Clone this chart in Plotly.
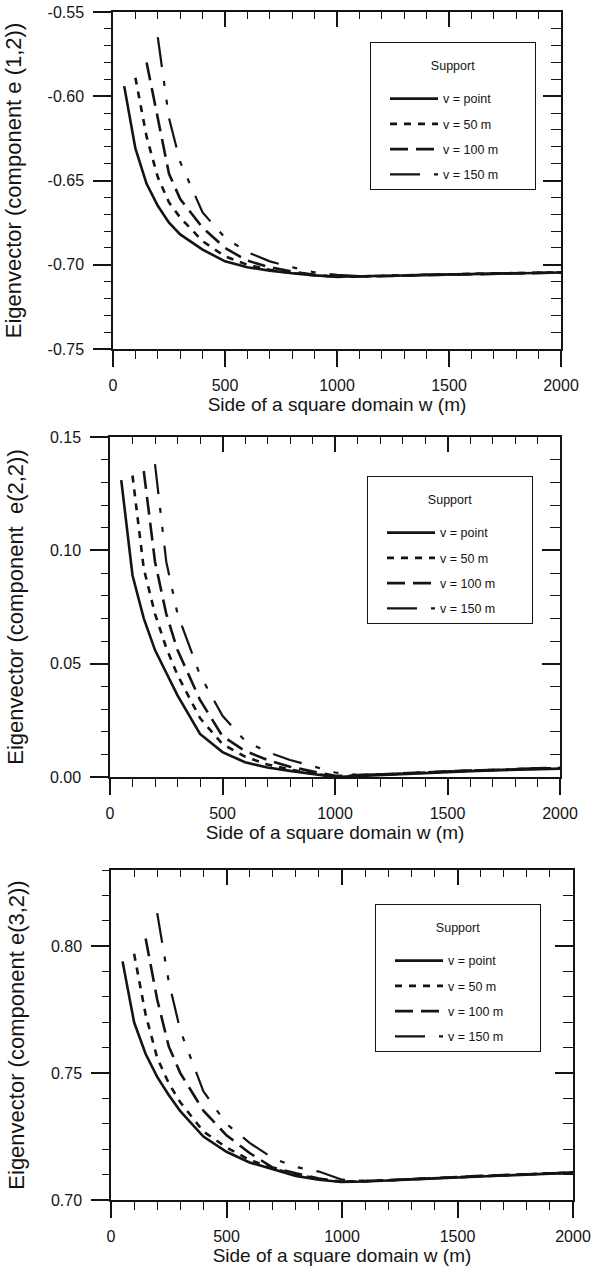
import plotly.graph_objects as go

# ---------------- data ----------------
W_POINT = [50, 100, 150, 200, 250, 300, 400, 500, 600, 700, 800, 900, 1000,
           1100, 1200, 1300, 1400, 1500, 1600, 1700, 1800, 1900, 2000]
W_50 = [100, 150, 200, 250, 300, 400, 500, 600, 700, 800, 900, 1000,
        1100, 1200, 1300, 1400, 1500, 1600, 1700, 1800, 1900, 2000]
W_100 = [150, 200, 250, 300, 400, 500, 600, 700, 800, 900, 1000,
         1100, 1200, 1300, 1400, 1500, 1600, 1700, 1800, 1900, 2000]
W_150 = [200, 250, 300, 400, 500, 600, 700, 800, 900, 1000,
         1100, 1200, 1300, 1400, 1500, 1600, 1700, 1800, 1900, 2000]

# e(1,2)
E12_POINT = [-0.594, -0.631, -0.652, -0.665, -0.675, -0.682, -0.691, -0.698, -0.7015, -0.7035,
             -0.705, -0.7063, -0.7071, -0.7070, -0.7068, -0.7064, -0.7060, -0.7057, -0.7055,
             -0.7052, -0.7050, -0.7048, -0.7046]
E12_50 = [-0.589, -0.624, -0.648, -0.663, -0.672, -0.686, -0.695, -0.700, -0.703, -0.705,
          -0.7062, -0.7071, -0.7069, -0.7067, -0.7063, -0.7059, -0.7057, -0.7054, -0.7052,
          -0.7049, -0.7047, -0.7045]
E12_100 = [-0.580, -0.613, -0.646, -0.661, -0.678, -0.690, -0.6976, -0.7015, -0.704, -0.706,
           -0.7072, -0.7070, -0.7067, -0.7064, -0.7061, -0.7058, -0.7055, -0.7052, -0.7050,
           -0.7048, -0.7046]
E12_150 = [-0.565, -0.613, -0.639, -0.669, -0.684, -0.6925, -0.698, -0.7015, -0.7045, -0.706,
           -0.7068, -0.7066, -0.7063, -0.7060, -0.7057, -0.7054, -0.7051, -0.7049, -0.7047,
           -0.7045]

# e(2,2)
E22_POINT = [0.131, 0.089, 0.070, 0.056, 0.046, 0.036, 0.019, 0.011, 0.0065, 0.0042, 0.0027,
             0.0013, 0.0000, 0.0004, 0.0009, 0.0014, 0.0018, 0.0022, 0.0026, 0.0029, 0.0032,
             0.0035, 0.0037]
E22_50 = [0.133, 0.092, 0.072, 0.057, 0.045, 0.026, 0.0145, 0.009, 0.0055, 0.0033, 0.0016,
          0.0001, 0.0006, 0.0011, 0.0016, 0.0020, 0.0024, 0.0028, 0.0031, 0.0034, 0.0037, 0.0040]
E22_100 = [0.135, 0.095, 0.072, 0.056, 0.034, 0.018, 0.0115, 0.0075, 0.0045, 0.0025, 0.0005,
           0.0007, 0.0012, 0.0017, 0.0021, 0.0025, 0.0028, 0.0031, 0.0034, 0.0037, 0.0040]
E22_150 = [0.138, 0.095, 0.072, 0.045, 0.027, 0.016, 0.011, 0.0075, 0.0048, 0.0020, 0.0009,
           0.0013, 0.0018, 0.0022, 0.0026, 0.0030, 0.0033, 0.0036, 0.0039, 0.0042]

# e(3,2)
E32_POINT = [0.794, 0.770, 0.7575, 0.7485, 0.7414, 0.735, 0.725, 0.719, 0.7148, 0.712, 0.7095,
             0.708, 0.7071, 0.7073, 0.7077, 0.7080, 0.7085, 0.7090, 0.7094, 0.7097, 0.7100,
             0.7104, 0.7107]
E32_50 = [0.797, 0.773, 0.756, 0.746, 0.7385, 0.727, 0.7207, 0.7158, 0.7125, 0.7100, 0.7083,
          0.7071, 0.7074, 0.7078, 0.7082, 0.7086, 0.7091, 0.7095, 0.7098, 0.7101, 0.7105, 0.7108]
E32_100 = [0.803, 0.779, 0.7605, 0.750, 0.7352, 0.7255, 0.7185, 0.7128, 0.7105, 0.7085, 0.7072,
           0.7074, 0.7078, 0.7082, 0.7087, 0.7091, 0.7095, 0.7098, 0.7101, 0.7105, 0.7108]
E32_150 = [0.813, 0.786, 0.7668, 0.7428, 0.730, 0.7225, 0.7165, 0.7130, 0.7112, 0.708, 0.7075,
           0.7079, 0.7083, 0.7087, 0.7091, 0.7095, 0.7099, 0.7102, 0.7105, 0.7109]

SUPPORT_NAMES = ["v = point", "v = 50 m", "v = 100 m", "v = 150 m"]
LEGEND_TITLE = "Support"

X_TICKS = [0, 500, 1000, 1500, 2000]
X_LABELS = ["0", "500", "1000", "1500", "2000"]
X_TITLE = "Side of a square domain w (m)"

Y1_TICKS = [-0.75, -0.70, -0.65, -0.60, -0.55]
Y1_LABELS = ["-0.75", "-0.70", "-0.65", "-0.60", "-0.55"]
Y2_TICKS = [0.00, 0.05, 0.10, 0.15]
Y2_LABELS = ["0.00", "0.05", "0.10", "0.15"]
Y3_TICKS = [0.70, 0.75, 0.80]
Y3_LABELS = ["0.70", "0.75", "0.80"]

Y_TITLES = ["Eigenvector (component e (1,2))",
            "Eigenvector (component  e(2,2))",
            "Eigenvector (component e(3,2))"]

# ---------------- styling ----------------
W, H = 595, 1266
INK = "#141414"
FONT = "Liberation Sans, Arial, sans-serif"

LINE_STYLES = [
    dict(dash="solid", width=2.6),
    dict(dash="7px,7px", width=2.6),
    dict(dash="18px,8px", width=2.6),
    dict(dash="30px,14px,5px,14px,5px,14px", width=2.2),
]


def px_x(p):
    return p / W


def px_y(p):
    return 1 - p / H


PANELS = [
    dict(xs=[W_POINT, W_50, W_100, W_150], ys=[E12_POINT, E12_50, E12_100, E12_150],
         xdom=(113, 561), ydom=(12, 349), yrange=[-0.75, -0.55],
         yticks=Y1_TICKS, ylabels=Y1_LABELS, legend_xy=(370, 42)),
    dict(xs=[W_POINT, W_50, W_100, W_150], ys=[E22_POINT, E22_50, E22_100, E22_150],
         xdom=(110, 560), ydom=(437, 777), yrange=[0.0, 0.15],
         yticks=Y2_TICKS, ylabels=Y2_LABELS, legend_xy=(367, 476)),
    dict(xs=[W_POINT, W_50, W_100, W_150], ys=[E32_POINT, E32_50, E32_100, E32_150],
         xdom=(111, 573), ydom=(870, 1200), yrange=[0.70, 0.83],
         yticks=Y3_TICKS, ylabels=Y3_LABELS, legend_xy=(375, 904)),
]

fig = go.Figure()
layout = {}

for i, p in enumerate(PANELS):
    n = i + 1
    xa = "x" if n == 1 else f"x{n}"
    ya = "y" if n == 1 else f"y{n}"
    xo = f"x{n + 3}"
    yo = f"y{n + 3}"
    leg = "legend" if n == 1 else f"legend{n}"

    for k in range(4):
        fig.add_trace(go.Scatter(
            x=p["xs"][k], y=p["ys"][k], mode="lines",
            name=SUPPORT_NAMES[k] + "\u00a0" * 9,
            line=dict(color=INK, **LINE_STYLES[k]),
            xaxis=xa, yaxis=ya, legend=leg,
            legendgroup=f"g{n}{k}",
        ))
    # carrier for the mirrored (top / right) axes
    fig.add_trace(go.Scatter(x=[], y=[], xaxis=xo, yaxis=yo, showlegend=False,
                             hoverinfo="skip"))

    xdom = [px_x(p["xdom"][0]), px_x(p["xdom"][1])]
    ydom = [px_y(p["ydom"][1]), px_y(p["ydom"][0])]

    common_line = dict(showline=True, linecolor=INK, linewidth=1.5,
                       showgrid=False, zeroline=False, tickcolor=INK, tickwidth=1.5)

    layout["xaxis" if n == 1 else f"xaxis{n}"] = dict(
        domain=xdom, anchor=ya, range=[0, 2000], tickmode="array",
        tickvals=X_TICKS, ticktext=X_LABELS, ticks="outside", ticklen=16,
        ticklabelstandoff=5, ticklabeloverflow="allow",
        minor=dict(tickmode="linear", tick0=0, dtick=100, ticks="outside",
                   ticklen=8, tickwidth=1.3, tickcolor=INK, showgrid=False),
        tickfont=dict(size=16, family=FONT, color=INK),
        title=dict(text=X_TITLE, font=dict(size=19, family=FONT, color=INK), standoff=2),
        **common_line)
    layout["yaxis" if n == 1 else f"yaxis{n}"] = dict(
        domain=ydom, anchor=xa, range=p["yrange"], tickmode="array",
        tickvals=p["yticks"], ticktext=p["ylabels"], ticks="outside", ticklen=18,
        ticklabelstandoff=6, ticklabeloverflow="allow",
        minor=dict(tickmode="linear", tick0=p["yrange"][0], dtick=0.01, ticks="outside",
                   ticklen=7, tickwidth=1.3, tickcolor=INK, showgrid=False),
        tickfont=dict(size=16, family=FONT, color=INK),
        title=dict(text=Y_TITLES[i], font=dict(size=22, family=FONT, color=INK), standoff=20),
        **common_line)
    layout[f"xaxis{n + 3}"] = dict(
        overlaying=xa, side="top", anchor=ya, range=[0, 2000], tickmode="array",
        tickvals=X_TICKS, ticks="inside", ticklen=15, showticklabels=False,
        minor=dict(tickmode="linear", tick0=0, dtick=100, ticks="inside",
                   ticklen=7, tickwidth=1.3, tickcolor=INK, showgrid=False),
        **common_line)
    layout[f"yaxis{n + 3}"] = dict(
        overlaying=ya, side="right", anchor=xa, range=p["yrange"], tickmode="array",
        tickvals=p["yticks"], ticks="inside", ticklen=18, showticklabels=False,
        minor=dict(tickmode="linear", tick0=p["yrange"][0], dtick=0.01, ticks="inside",
                   ticklen=10, tickwidth=1.3, tickcolor=INK, showgrid=False),
        **common_line)

    lx, ly = p["legend_xy"]
    layout[leg] = dict(
        x=px_x(lx), y=px_y(ly), xanchor="left", yanchor="top",
        bgcolor="white", bordercolor=INK, borderwidth=1,
        font=dict(size=12.5, family=FONT, color=INK),
        title=dict(text="<br><span style='font-size:12.5px'>" + LEGEND_TITLE + "</span><br>",
                   side="top center",
                   font=dict(size=10.5, family=FONT, color=INK)),
        itemwidth=48, indentation=14, tracegroupgap=6,
    )

fig.update_layout(
    width=W, height=H, margin=dict(l=0, r=0, t=0, b=0, autoexpand=False),
    paper_bgcolor="white", plot_bgcolor="white",
    font=dict(family=FONT, size=15, color=INK),
    **layout,
)

# the page itself adds no margin around the figure
fig.write_html("out.html", config={"displayModeBar": False},
               post_script="document.body.style.margin='0';")
